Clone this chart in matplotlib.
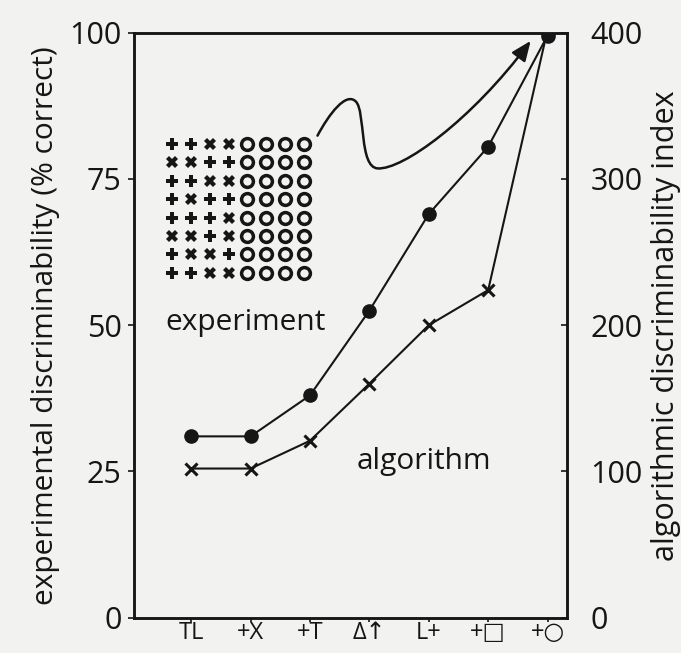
import matplotlib.pyplot as plt
from matplotlib.path import Path
from matplotlib.patches import FancyArrowPatch

# ---------------- Data ----------------
conditions = ["TL", "+X", "+T", "\u0394\u2191", "L+", "+\u25A1", "+\u25CB"]
experiment = [31, 31, 38, 52.5, 69, 80.5, 99.5]      # % correct (left axis)
algorithm = [102, 102, 121, 160, 200, 224, 402]      # index (right axis)

# 8x8 stimulus texture shown as inset (p = plus, x = cross, o = circle)
texture = [
    "ppxxoooo",
    "xxppoooo",
    "ppxxoooo",
    "pxppoooo",
    "pppxoooo",
    "xxpxoooo",
    "pxxpoooo",
    "ppxxoooo",
]

INK = "#161616"
plt.rcParams["font.family"] = ["Open Sans", "DejaVu Sans"]

# ---------------- Figure ----------------
fig = plt.figure(figsize=(6.81, 6.53), dpi=100, facecolor="#f2f2f0")
ax = fig.add_axes([0.197, 0.054, 0.635, 0.896])
ax.set_facecolor("#f2f2f0")
ax2 = ax.twinx()

xs = list(range(len(conditions)))
ax.plot(xs, experiment, color=INK, lw=1.5, marker="o", ms=9.5, zorder=3)
ax2.plot(xs, algorithm, color=INK, lw=1.5, marker="x", ms=8, mew=2.2, zorder=3)

ax.set_xlim(-0.96, 6.32)
ax.set_ylim(0, 100)
ax2.set_ylim(0, 400)

ax.set_xticks(xs)
ax.set_xticklabels(conditions, fontsize=17, color=INK)
ax.set_yticks([0, 25, 50, 75, 100])
ax2.set_yticks([0, 100, 200, 300, 400])
ax.tick_params(axis="x", direction="out", length=3, width=1.2, pad=-1, colors=INK)
ax.tick_params(axis="y", direction="out", length=4, width=1.2, pad=5,
               labelsize=22, colors=INK)
ax2.tick_params(axis="y", direction="in", length=4, width=1.2, pad=17,
                labelsize=22, colors=INK)

for a in (ax, ax2):
    for s in a.spines.values():
        s.set_linewidth(1.8)
        s.set_color(INK)

ax.set_ylabel("experimental discriminability (% correct)", fontsize=21.5,
              color=INK, labelpad=7)
ax2.set_ylabel("algorithmic discriminability index", fontsize=22,
               color=INK, labelpad=6)

# ---------------- Inset texture ----------------
for r, row in enumerate(texture):
    for c, ch in enumerate(row):
        x = 0.088 + c * 0.0435
        y = 0.81 - r * 0.0315
        if ch == "o":
            ax.plot(x, y, transform=ax.transAxes, marker="o", ms=8.5, mfc="none",
                    mec=INK, mew=2.5, clip_on=False)
        else:
            m = "P" if ch == "p" else "X"
            ax.plot(x, y, transform=ax.transAxes, marker=m, ms=9, mfc=INK,
                    mec=INK, mew=0, clip_on=False)

ax.text(0.257, 0.505, "experiment", transform=ax.transAxes, fontsize=21.5,
        color=INK, ha="center", va="center")
ax.text(0.67, 0.267, "algorithm", transform=ax.transAxes, fontsize=21.5,
        color=INK, ha="center", va="center")

# ---------------- Curved arrow ----------------
verts = [
    (0.424, 0.824),
    (0.45, 0.86), (0.49, 0.90), (0.513, 0.882),
    (0.535, 0.865), (0.52, 0.77), (0.563, 0.768),
    (0.62, 0.765), (0.78, 0.85), (0.917, 0.986),
]
codes = [Path.MOVETO] + [Path.CURVE4] * 9
arrow = FancyArrowPatch(path=Path(verts, codes), transform=ax.transAxes,
                        arrowstyle="-|>,head_length=12,head_width=5",
                        color=INK, lw=1.8, zorder=4)
ax.add_patch(arrow)

fig.savefig("out.png", dpi=100, facecolor=fig.get_facecolor())
